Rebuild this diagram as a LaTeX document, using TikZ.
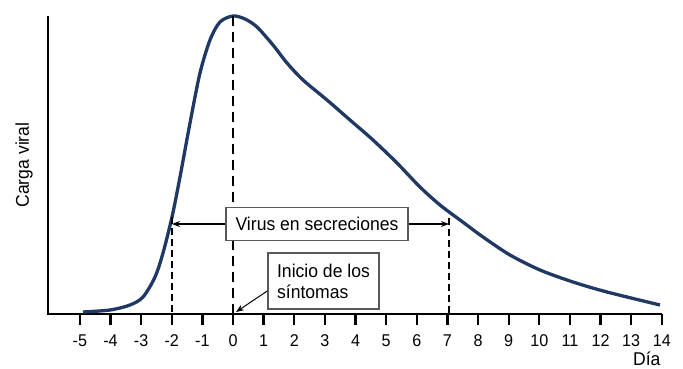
\documentclass[tikz,border=0pt]{standalone}
\usepackage{fontspec}
\setmainfont{Liberation Sans}[FakeStretch=0.95]
\usetikzlibrary{arrows.meta}
\definecolor{curvenavy}{RGB}{32,56,100}

\begin{document}
\begin{tikzpicture}[x=1pt,y=1pt,font=\fontsize{18.5}{21}\selectfont]
    \useasboundingbox (0,0) rectangle (683,368);

    \draw [line width=2.3pt] (48,352) -- (48,54) -- (662,54);
    \foreach \d in {-5,...,14} {
        \draw [line width=2.3pt] (233+30.63*\d,54) -- (233+30.63*\d,43);
        \node (tick\d) [font=\fontsize{17}{19}\selectfont] at (233+30.63*\d,27) {\d};
    }
    \node (dayaxis) [anchor=base east] at (664,3) {Día};
    \node (loadaxis) [rotate=90] at (24,203) {Carga viral};

    \draw [curvenavy, line width=3.3pt, smooth, tension=0.5] plot coordinates {
        (83,56) (110,58) (130,63) (143,71) (155,91) (163,115) (172,151)
        (180,191) (190,245) (200,295) (210,328) (220,346) (233,352)
        (245,349) (257,341) (273,323) (287,305) (303,288) (327,268)
        (350,248) (373,228) (397,205) (420,181) (440,163) (460,148)
        (483,131) (510,113) (540,98) (573,86) (607,76) (660,63)};

    \coordinate (peak) at (233,352);
    \coordinate (onsettip) at (236,56);
    \coordinate (shedstart) at (172,144);
    \coordinate (shedend) at (449,144);
    \draw [line width=2.8pt, dash pattern=on 10pt off 6pt] (peak) -- (233,54);
    \draw [line width=2.2pt, dash pattern=on 7pt off 4pt] (172,151) -- (172,54);
    \draw [line width=2.2pt, dash pattern=on 7pt off 4pt] (449,150) -- (449,54);

    \begin{scope} [every node/.style={draw=black!65,line width=1.2pt,fill=white}]
        \node (virus) [minimum width=182pt,minimum height=33pt] at (317,144) {Virus en secreciones};
        \node (onset) [minimum width=111pt,minimum height=56pt,align=left] at (323.5,87) {Inicio de los\\síntomas};
    \end{scope}

    \begin{scope}[>={Stealth[length=8pt,width=6pt]},
            every edge/.style={draw=black,line width=1.6pt}]
        \path [->] (virus) edge (shedstart);
        \path [->] (virus) edge (shedend);
        \path [->] (onset.190) edge [line width=1pt] (onsettip);
    \end{scope}
\end{tikzpicture}
\end{document}
